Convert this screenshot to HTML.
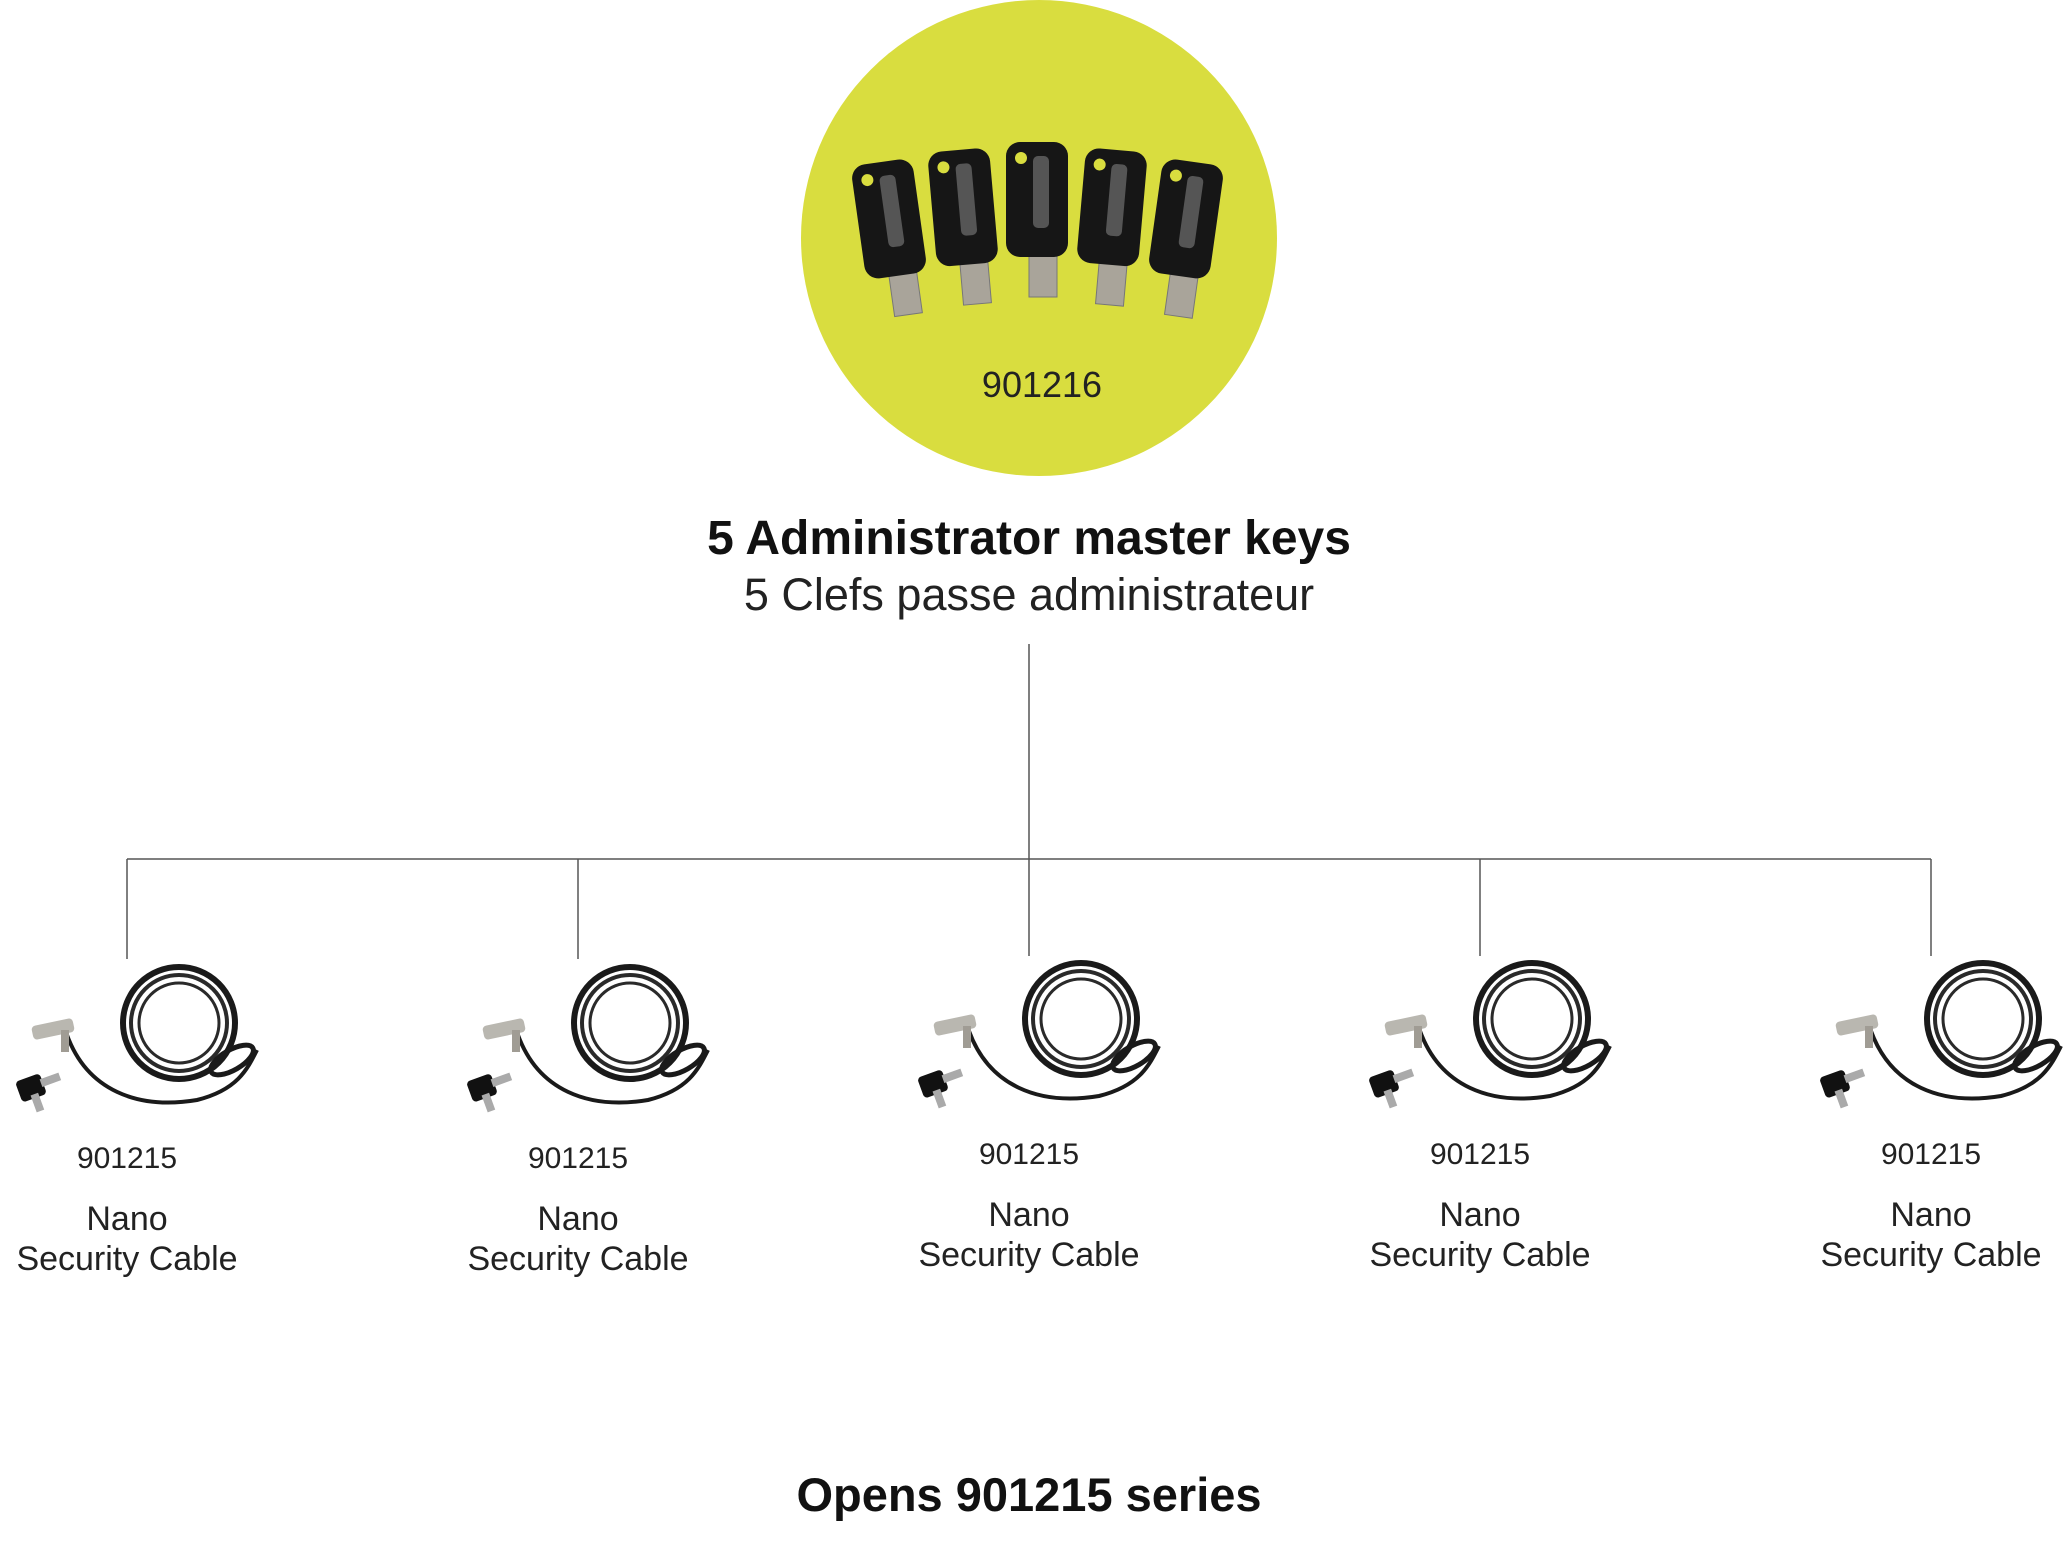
<!DOCTYPE html>
<html><head><meta charset="utf-8"><style>
html,body{margin:0;padding:0;background:#fff;}
body{width:2072px;height:1538px;overflow:hidden;font-family:"Liberation Sans",sans-serif;}
</style></head><body>
<svg width="2072" height="1538" viewBox="0 0 2072 1538" xmlns="http://www.w3.org/2000/svg">
<defs>
<g id="key">
  <rect x="-8" y="75" width="28" height="80" fill="#a9a49a" stroke="#777" stroke-width="1"/>
  <rect x="-31" y="0" width="62" height="115" rx="14" fill="#161616"/>
  <circle cx="-16" cy="16" r="6" fill="#d9dd3f"/>
  <rect x="-4" y="14" width="16" height="72" rx="5" fill="#555"/>
</g>
<g id="cable">
  <path d="M-60 75 C -40 130, 10 150, 70 140 C 110 130, 120 110, 130 90" fill="none" stroke="#1a1a1a" stroke-width="4"/>
  <circle cx="52" cy="63" r="56" fill="none" stroke="#1a1a1a" stroke-width="6"/>
  <circle cx="52" cy="63" r="48" fill="none" stroke="#2a2a2a" stroke-width="4"/>
  <circle cx="52" cy="63" r="40" fill="none" stroke="#2a2a2a" stroke-width="3"/>
  <ellipse cx="105" cy="100" rx="24" ry="10" transform="rotate(-30 105 100)" fill="none" stroke="#1a1a1a" stroke-width="5"/>
  <rect x="-95" y="62" width="42" height="14" rx="4" fill="#b9b7b0" transform="rotate(-12 -74 69)"/>
  <rect x="-66" y="70" width="8" height="22" fill="#a09c94"/>
  <g transform="translate(-112,122) rotate(-20)">
    <rect x="0" y="0" width="26" height="22" rx="4" fill="#111"/>
    <rect x="24" y="6" width="20" height="8" fill="#aaa"/>
    <rect x="10" y="18" width="8" height="18" fill="#aaa"/>
  </g>
</g>
</defs>
<circle cx="1039" cy="238" r="238" fill="#d9dd3f"/>
<use href="#key" transform="translate(881,162) rotate(-8)"/>
<use href="#key" transform="translate(958,150) rotate(-5)"/>
<use href="#key" transform="translate(1037,142)"/>
<use href="#key" transform="translate(1117,150) rotate(5)"/>
<use href="#key" transform="translate(1194,162) rotate(8)"/>
<text x="1042" y="397" font-size="36" text-anchor="middle" fill="#222">901216</text>
<text x="1029" y="554" font-size="48" font-weight="bold" text-anchor="middle" fill="#111">5 Administrator master keys</text>
<text x="1029" y="610" font-size="45" text-anchor="middle" fill="#222">5 Clefs passe administrateur</text>
<g stroke="#555" stroke-width="1.5" fill="none">
  <line x1="1029" y1="644" x2="1029" y2="956"/>
  <line x1="127" y1="859" x2="1931" y2="859"/>
  <line x1="127" y1="859" x2="127" y2="959"/>
  <line x1="578" y1="859" x2="578" y2="959"/>
  <line x1="1480" y1="859" x2="1480" y2="956"/>
  <line x1="1931" y1="859" x2="1931" y2="956"/>
</g>
<use href="#cable" transform="translate(127,960)"/>
<use href="#cable" transform="translate(578,960)"/>
<use href="#cable" transform="translate(1029,956)"/>
<use href="#cable" transform="translate(1480,956)"/>
<use href="#cable" transform="translate(1931,956)"/>
<g font-size="30" text-anchor="middle" fill="#222">
  <text x="127" y="1168">901215</text>
  <text x="578" y="1168">901215</text>
  <text x="1029" y="1164">901215</text>
  <text x="1480" y="1164">901215</text>
  <text x="1931" y="1164">901215</text>
</g>
<g font-size="34" text-anchor="middle" fill="#222">
  <text x="127" y="1230">Nano</text><text x="127" y="1270">Security Cable</text>
  <text x="578" y="1230">Nano</text><text x="578" y="1270">Security Cable</text>
  <text x="1029" y="1226">Nano</text><text x="1029" y="1266">Security Cable</text>
  <text x="1480" y="1226">Nano</text><text x="1480" y="1266">Security Cable</text>
  <text x="1931" y="1226">Nano</text><text x="1931" y="1266">Security Cable</text>
</g>
<text x="1029" y="1511" font-size="47" font-weight="bold" text-anchor="middle" fill="#111">Opens 901215 series</text>
</svg>
</body></html>
